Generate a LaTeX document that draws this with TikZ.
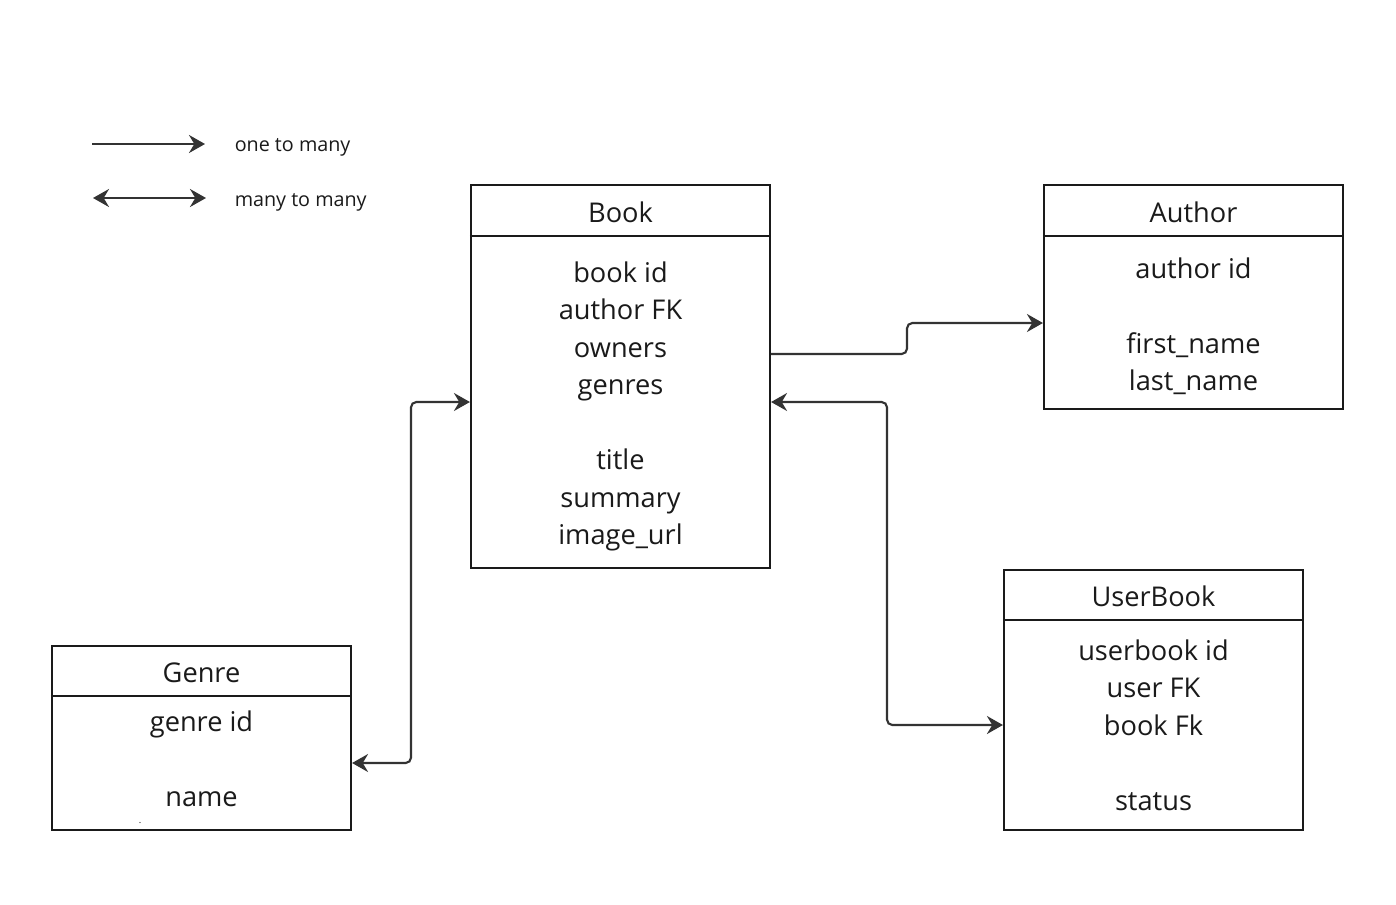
\documentclass[tikz,border=0pt]{standalone}
\usepackage{fontspec}
\setmainfont{Open Sans}
\usetikzlibrary{arrows.meta}
\definecolor{ink}{HTML}{1A1A1A}
\definecolor{wirec}{HTML}{333333}
\begin{document}
\begin{tikzpicture}[x=0.75pt,y=-0.75pt,
  box/.style={draw=ink, line width=1.6pt, rectangle, inner sep=0pt, minimum width=224.25pt},
  rule/.style={draw=ink, line width=1.6pt},
  field/.style={font=\fontsize{20.4}{24}\selectfont, text=ink, anchor=base, inner sep=0pt},
  legendtext/.style={font=\fontsize{14.8}{17}\selectfont, text=ink, anchor=base west, inner sep=0pt},
  wire/.style={draw=wirec, line width=1.6pt, rounded corners=4pt},
  one/.style={wire, -{Stealth[length=12pt, width=13.5pt, inset=4pt]}},
  both/.style={wire, {Stealth[length=12pt, width=13.5pt, inset=4pt]}-{Stealth[length=12pt, width=13.5pt, inset=4pt]}},
]
\fill[white] (0,0) rectangle (1396,904);
\useasboundingbox (0,0) rectangle (1396,904);

% legend
\coordinate (l1a) at (92,144);
\coordinate (l1b) at (205,144);
\coordinate (l2a) at (93,198);
\coordinate (l2b) at (206,198);
\draw[one] (l1a) -- (l1b);
\draw[both] (l2a) -- (l2b);
\node[legendtext] (leg1) at (234.5,151) {one to many};
\node[legendtext] (leg2) at (234.5,206) {many to many};

% Book
\node[box, minimum height=287.25pt] (book) at (620.5,376.5) {};
\draw[rule] (book.west |- 0,236) -- (book.east |- 0,236);
\node[field] (bookT) at (620.5,222) {Book};
\node[field] (bookA) at (620.5,282) {book id};
\node[field] (bookB) at (620.5,319.5) {author FK};
\node[field] (bookC) at (620.5,357) {owners};
\node[field] (bookD) at (620.5,394.5) {genres};
\node[field] (bookE) at (620.5,469.5) {title};
\node[field] (bookF) at (620.5,507) {summary};
\node[field] (bookG) at (620.5,544.5) {image\_url};

% Author
\node[box, minimum height=168pt] (author) at (1193.5,297) {};
\draw[rule] (author.west |- 0,236) -- (author.east |- 0,236);
\node[field] (authT) at (1193.5,222) {Author};
\node[field] (authA) at (1193.5,278) {author id};
\node[field] (authB) at (1193.5,353) {first\_name};
\node[field] (authC) at (1193.5,390.5) {last\_name};

% UserBook
\node[box, minimum height=195pt] (ub) at (1153.5,700) {};
\draw[rule] (ub.west |- 0,620) -- (ub.east |- 0,620);
\node[field] (ubT) at (1153.5,606) {UserBook};
\node[field] (ubA) at (1153.5,660) {userbook id};
\node[field] (ubB) at (1153.5,697.5) {user FK};
\node[field] (ubC) at (1153.5,735) {book Fk};
\node[field] (ubD) at (1153.5,810) {status};

% Genre
\node[box, minimum height=138pt] (genre) at (201.5,738) {};
\draw[rule] (genre.west |- 0,696) -- (genre.east |- 0,696);
\node[field] (genT) at (201.5,682) {Genre};
\node[field] (genA) at (201.5,731) {genre id};
\node[field] (genB) at (201.5,806) {name};
\node[font=\fontsize{7}{7}\selectfont, text=ink, inner sep=0pt, anchor=base] (dot) at (140,823.5) {.};

% connectors
\draw[one] (book.east |- 0,354) -- (907,354) -- (907,323) -- (author.west |- 0,323);
\draw[both] (book.east |- 0,402) -- (887,402) -- (887,725) -- (ub.west |- 0,725);
\draw[both] (book.west |- 0,402) -- (411,402) -- (411,763) -- (genre.east |- 0,763);
\end{tikzpicture}
\end{document}
